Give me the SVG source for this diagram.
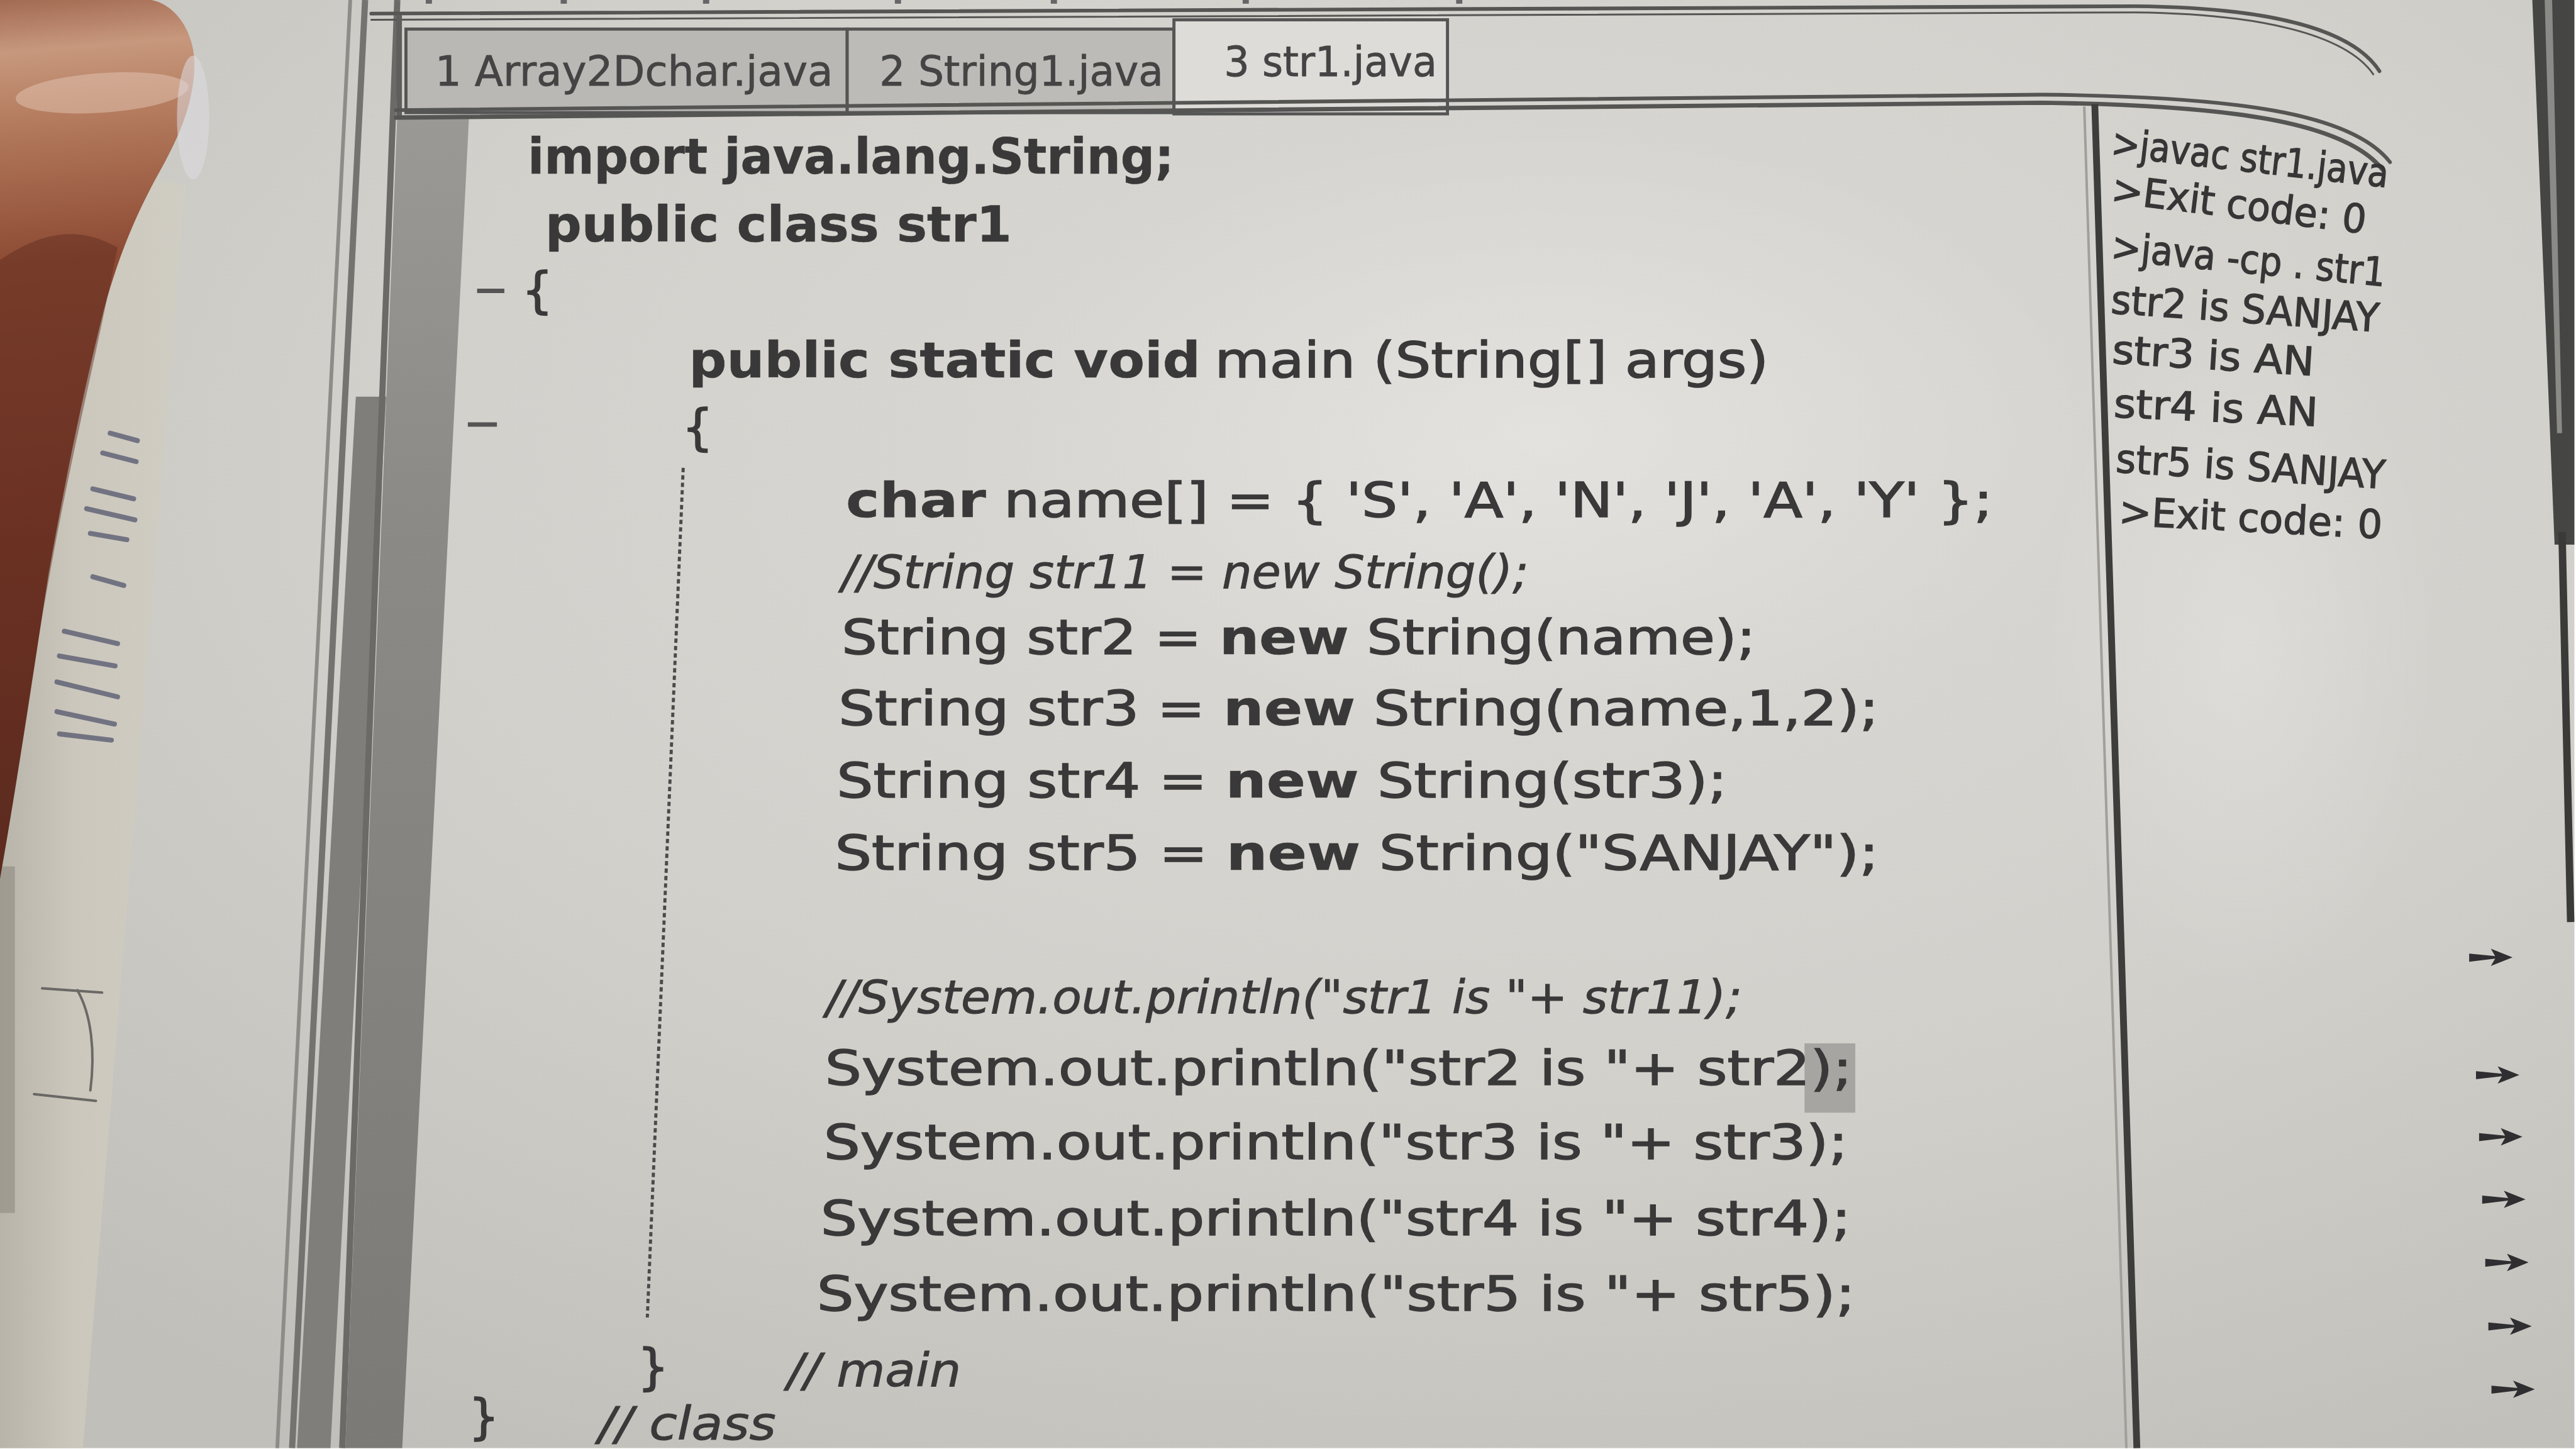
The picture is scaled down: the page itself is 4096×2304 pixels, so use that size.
<svg xmlns="http://www.w3.org/2000/svg" width="4096" height="2304" viewBox="0 0 4096 2304">
<defs>
  <radialGradient id="paper" cx="0.58" cy="0.32" r="0.8">
    <stop offset="0" stop-color="#dbdad6"/>
    <stop offset="0.55" stop-color="#d1d0cb"/>
    <stop offset="1" stop-color="#c0bfba"/>
  </radialGradient>
  <radialGradient id="glow" cx="0.5" cy="0.5" r="0.5">
    <stop offset="0" stop-color="#ffffff" stop-opacity="0.22"/>
    <stop offset="1" stop-color="#ffffff" stop-opacity="0"/>
  </radialGradient>
  <linearGradient id="fingerGrad" gradientUnits="userSpaceOnUse" x1="0" y1="0" x2="120" y2="1420">
    <stop offset="0" stop-color="#a26a52"/>
    <stop offset="0.06" stop-color="#c7987d"/>
    <stop offset="0.14" stop-color="#b47b5e"/>
    <stop offset="0.3" stop-color="#8c4a33"/>
    <stop offset="0.6" stop-color="#773827"/>
    <stop offset="1" stop-color="#5a2b1f"/>
  </linearGradient>
  <linearGradient id="gutterGrad" x1="0" y1="0" x2="0" y2="1">
    <stop offset="0" stop-color="#9a9995"/>
    <stop offset="0.3" stop-color="#8b8a86"/>
    <stop offset="1" stop-color="#7b7a76"/>
  </linearGradient>
  <linearGradient id="stripGrad" x1="0" y1="0" x2="1" y2="0">
    <stop offset="0" stop-color="#b8b4a9"/>
    <stop offset="0.4" stop-color="#cbc7bc"/>
    <stop offset="1" stop-color="#d0cdc4"/>
  </linearGradient>
  <path id="arrow" d="M0,-6 L42,-2 L35,-14 L70,0 L35,14 L42,2 L0,7 Z"/>
</defs>
<style>
  .code{font-family:"DejaVu Sans","Liberation Sans",sans-serif;fill:#3a3939;stroke:#3a3939;stroke-width:1.6px;font-size:78px}
  .top{font-size:80px}
  .b{font-weight:bold;stroke-width:0.6px}
  .cm{font-style:italic;font-size:74px;stroke-width:1px}
  .out{font-family:"DejaVu Sans","Liberation Sans",sans-serif;fill:#363636;stroke:#363636;stroke-width:1.4px;font-size:64px}
  .tab{font-family:"DejaVu Sans","Liberation Sans",sans-serif;fill:#444;stroke:#444;stroke-width:0.8px;font-size:66px}
  .frame{fill:none;stroke:#555553;stroke-linecap:round}
  .scr{fill:none;stroke:#4c4e68;stroke-width:8;stroke-linecap:round;opacity:0.7}
  .arr{fill:#2f2e31}
</style>
<g transform="scale(0.984)">
  <g id="background">
    <rect x="0" y="0" width="4160" height="2340" fill="url(#paper)"/>
    <ellipse cx="3620" cy="1050" rx="320" ry="560" fill="url(#glow)"/>
    <ellipse cx="2500" cy="700" rx="900" ry="500" fill="url(#glow)"/>
  </g>

  <g id="left-edge">
    <polygon points="0,240 300,300 134,2340 0,2340" fill="url(#stripGrad)"/>
    <rect x="0" y="1400" width="24" height="560" fill="#8f8b82" opacity="0.6"/>
    <g id="scribbles">
      <line class="scr" x1="178" y1="700" x2="222" y2="712"/>
      <line class="scr" x1="166" y1="732" x2="220" y2="746"/>
      <line class="scr" x1="150" y1="790" x2="216" y2="806"/>
      <line class="scr" x1="140" y1="822" x2="218" y2="840"/>
      <line class="scr" x1="146" y1="862" x2="205" y2="872"/>
      <line class="scr" x1="150" y1="932" x2="200" y2="946"/>
      <line class="scr" x1="104" y1="1020" x2="190" y2="1040"/>
      <line class="scr" x1="96" y1="1060" x2="186" y2="1076"/>
      <line class="scr" x1="92" y1="1102" x2="190" y2="1126"/>
      <line class="scr" x1="92" y1="1150" x2="185" y2="1170"/>
      <line class="scr" x1="96" y1="1186" x2="180" y2="1196"/>
    </g>
    <g id="pencil" fill="none" stroke="#4a4a4a" stroke-width="4" stroke-linecap="round" opacity="0.75">
      <line x1="68" y1="1597" x2="165" y2="1604"/>
      <path d="M125,1600 C148,1640 154,1700 146,1762"/>
      <line x1="55" y1="1768" x2="155" y2="1779"/>
    </g>
    <g id="finger">
      <path d="M0,0 L245,0 C285,8 318,55 314,115 C310,170 292,215 262,270 C228,330 195,400 168,500 C140,610 108,760 78,930 C55,1080 30,1250 0,1420 Z" fill="url(#fingerGrad)"/>
      <ellipse cx="165" cy="150" rx="140" ry="32" fill="#e4c6b4" opacity="0.5" transform="rotate(-4,165,150)"/>
      <ellipse cx="312" cy="190" rx="26" ry="100" fill="#dfdce2" opacity="0.55"/>
      <path d="M0,420 C60,380 120,360 190,400 C150,600 110,760 80,930 C50,1090 30,1250 0,1420 Z" fill="#5e2a1e" opacity="0.45"/>
    </g>
  </g>

  <g id="window-frame">
    <line x1="566" y1="0" x2="448" y2="2340" stroke="#8d8c88" stroke-width="6"/>
    <line x1="590" y1="0" x2="472" y2="2340" stroke="#747370" stroke-width="10"/>
    <polygon points="575,641 624,641 534,2340 480,2340" fill="#7f7e7a"/>
    <line x1="642" y1="0" x2="553" y2="2340" stroke="#6b6a67" stroke-width="10"/>
    <polygon points="642,186 758,186 650,2340 558,2340" fill="url(#gutterGrad)"/>
    <path class="frame" d="M600,22 L3450,10 C3660,12 3800,45 3845,115" stroke-width="6" stroke="#6e6e6e"/>
    <path class="frame" d="M600,32 L3450,20 C3650,22 3790,55 3835,120" stroke-width="3" stroke="#999"/>
    <g fill="#666">
      <rect x="688" y="0" width="10" height="6"/>
      <rect x="906" y="0" width="10" height="6"/>
      <rect x="1136" y="0" width="10" height="6"/>
      <rect x="1446" y="0" width="10" height="6"/>
      <rect x="1698" y="0" width="10" height="6"/>
      <rect x="2008" y="0" width="10" height="6"/>
      <rect x="2353" y="0" width="10" height="6"/>
    </g>
    <line x1="645" y1="24" x2="645" y2="190" stroke="#5e5e5c" stroke-width="9"/>
  </g>

  <g id="tabs">
    <g id="tab1">
      <rect x="656" y="47" width="713" height="135" fill="#b9b8b4" stroke="#555" stroke-width="5"/>
      <text class="tab" x="703" y="138" textLength="643" lengthAdjust="spacingAndGlyphs">1 Array2Dchar.java</text>
    </g>
    <g id="tab2">
      <rect x="1369" y="47" width="528" height="135" fill="#bcbbb7" stroke="#555" stroke-width="5"/>
      <text class="tab" x="1421" y="138" textLength="459" lengthAdjust="spacingAndGlyphs">2 String1.java</text>
    </g>
    <g id="tab3">
      <rect x="1897" y="32" width="442" height="152" fill="#dddcd8" stroke="#555" stroke-width="5"/>
      <text class="tab" x="1978" y="123" textLength="344" lengthAdjust="spacingAndGlyphs">3 str1.java</text>
    </g>
  </g>

  <g id="pane-borders">
    <path class="frame" d="M640,178 L3300,153 C3610,156 3800,182 3862,262" stroke-width="6" stroke="#4e4e4c"/>
    <path class="frame" d="M640,190 L3300,166 C3600,170 3788,196 3850,274" stroke-width="7" stroke="#4a4a48"/>
    <line x1="3368" y1="172" x2="3436" y2="2340" stroke="#a09f9b" stroke-width="4"/>
    <line x1="3385" y1="168" x2="3453" y2="2340" stroke="#3d3d3c" stroke-width="11"/>
  </g>

  <g id="right-edge">
    <polygon points="4092,0 4160,0 4160,880 4128,880" fill="#454543"/>
    <polygon points="4112,0 4124,0 4140,700 4132,700" fill="#8a8a87"/>
    <line x1="4140" y1="860" x2="4154" y2="1490" stroke="#3a3a38" stroke-width="12"/>
  </g>

  <g id="code">
    <text class="code top b" x="853" y="280" textLength="1044" lengthAdjust="spacingAndGlyphs">import java.lang.String;</text>
    <text class="code top b" x="881" y="390" textLength="754" lengthAdjust="spacingAndGlyphs">public class str1</text>
    <line x1="771" y1="470" x2="815" y2="470" stroke="#555" stroke-width="7"/>
    <text class="code top" x="843" y="497">{</text>
    <text class="code top b" x="1113" y="610" textLength="827" lengthAdjust="spacingAndGlyphs">public static void</text>
    <text class="code top" x="1963" y="610" textLength="895" lengthAdjust="spacingAndGlyphs">main (String[] args)</text>
    <line x1="756" y1="686" x2="803" y2="686" stroke="#555" stroke-width="7"/>
    <text class="code top" x="1102" y="718">{</text>
    <line x1="1104" y1="756" x2="1046" y2="2129" stroke="#4a4a4a" stroke-width="5" stroke-dasharray="7 5"/>
    <text class="code" x="1367" y="835" textLength="1853" lengthAdjust="spacingAndGlyphs"><tspan class="b">char</tspan> name[] = { 'S', 'A', 'N', 'J', 'A', 'Y' };</text>
    <text class="code cm" x="1360" y="950" textLength="1110" lengthAdjust="spacingAndGlyphs">//String str11 = new String();</text>
    <text class="code" x="1360" y="1057" textLength="1477" lengthAdjust="spacingAndGlyphs">String str2 = <tspan class="b">new</tspan> String(name);</text>
    <text class="code" x="1355" y="1172" textLength="1681" lengthAdjust="spacingAndGlyphs">String str3 = <tspan class="b">new</tspan> String(name,1,2);</text>
    <text class="code" x="1352" y="1289" textLength="1439" lengthAdjust="spacingAndGlyphs">String str4 = <tspan class="b">new</tspan> String(str3);</text>
    <text class="code" x="1349" y="1405" textLength="1687" lengthAdjust="spacingAndGlyphs">String str5 = <tspan class="b">new</tspan> String("SANJAY");</text>
    <text class="code cm" x="1335" y="1637" textLength="1480" lengthAdjust="spacingAndGlyphs">//System.out.println("str1 is "+ str11);</text>
    <rect x="2916" y="1686" width="82" height="112" fill="#a6a5a2"/>
    <text class="code" x="1333" y="1753" textLength="1660" lengthAdjust="spacingAndGlyphs">System.out.println("str2 is "+ str2);</text>
    <text class="code" x="1331" y="1873" textLength="1655" lengthAdjust="spacingAndGlyphs">System.out.println("str3 is "+ str3);</text>
    <text class="code" x="1326" y="1996" textLength="1665" lengthAdjust="spacingAndGlyphs">System.out.println("str4 is "+ str4);</text>
    <text class="code" x="1320" y="2118" textLength="1678" lengthAdjust="spacingAndGlyphs">System.out.println("str5 is "+ str5);</text>
    <text class="code top" x="1030" y="2237">}</text>
    <text class="code cm" x="1272" y="2240" textLength="281" lengthAdjust="spacingAndGlyphs">// main</text>
    <text class="code" x="757" y="2316" font-size="70">}</text>
    <text class="code cm" x="967" y="2326" font-size="66" textLength="287" lengthAdjust="spacingAndGlyphs">// class</text>
  </g>

  <g id="output">
    <text class="out" x="3410" y="252" textLength="450" lengthAdjust="spacingAndGlyphs" transform="rotate(6.5,3410,252)">&gt;javac str1.java</text>
    <text class="out" x="3410" y="327" textLength="414" lengthAdjust="spacingAndGlyphs" transform="rotate(7,3410,327)">&gt;Exit code: 0</text>
    <text class="out" x="3410" y="420" textLength="445" lengthAdjust="spacingAndGlyphs" transform="rotate(5.5,3410,420)">&gt;java -cp . str1</text>
    <text class="out" x="3410" y="506" textLength="434" lengthAdjust="spacingAndGlyphs" transform="rotate(4,3410,506)">str2 is SANJAY</text>
    <text class="out" x="3412" y="587" textLength="327" lengthAdjust="spacingAndGlyphs" transform="rotate(3.5,3412,587)">str3 is AN</text>
    <text class="out" x="3415" y="674" textLength="330" lengthAdjust="spacingAndGlyphs" transform="rotate(2.5,3415,674)">str4 is AN</text>
    <text class="out" x="3418" y="763" textLength="436" lengthAdjust="spacingAndGlyphs" transform="rotate(3.5,3418,763)">str5 is SANJAY</text>
    <text class="out" x="3423" y="848" textLength="426" lengthAdjust="spacingAndGlyphs" transform="rotate(3,3423,848)">&gt;Exit code: 0</text>
  </g>

  <g id="margin-arrows" class="arr">
    <use href="#arrow" x="3990" y="1547"/>
    <use href="#arrow" x="4001" y="1737"/>
    <use href="#arrow" x="4006" y="1837"/>
    <use href="#arrow" x="4011" y="1938"/>
    <use href="#arrow" x="4016" y="2040"/>
    <use href="#arrow" x="4021" y="2143"/>
    <use href="#arrow" x="4026" y="2245"/>
  </g>
</g>
</svg>
